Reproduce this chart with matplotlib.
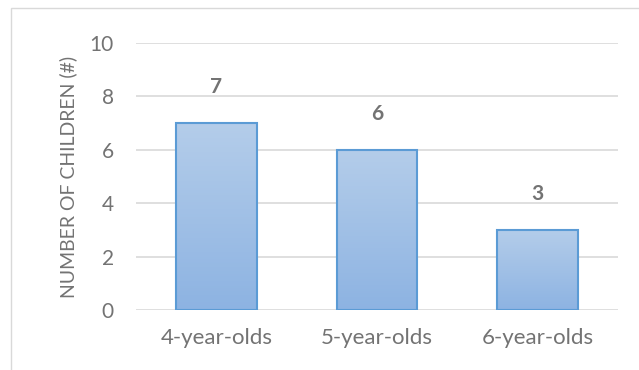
import matplotlib
matplotlib.use("Agg")
import matplotlib.pyplot as plt
import numpy as np
from matplotlib.patches import Rectangle
from matplotlib.colors import LinearSegmentedColormap

categories = ["4-year-olds", "5-year-olds", "6-year-olds"]
values = [7, 6, 3]
yticks = [0, 2, 4, 6, 8, 10]
ylabel = "NUMBER OF CHILDREN (#)"

plt.rcParams['font.family'] = ['Lato', 'DejaVu Sans']
W, H = 639, 370
fig = plt.figure(figsize=(W/100, H/100), dpi=100)
ax = fig.add_axes([136/W, 1-310/H, (618-136)/W, (310-43)/H])

text_col = "#737373"
x = np.arange(len(categories))
bars = ax.bar(x, values, width=0.5, facecolor="none", edgecolor="#5B9BD5", linewidth=1.5, zorder=3)
grad = np.linspace(0, 1, 256).reshape(-1, 1)
cmap = LinearSegmentedColormap.from_list("g", ["#8DB3E2", "#B4CDEA"])
for b in bars:
    x0, y0, w, h = b.get_x(), b.get_y(), b.get_width(), b.get_height()
    im = ax.imshow(grad, extent=[x0, x0+w, y0, y0+h], origin="lower", cmap=cmap,
                   aspect="auto", zorder=2)
    im.set_clip_path(Rectangle((x0, y0), w, h, transform=ax.transData))
for xi, v in zip(x, values):
    ax.annotate(str(v), (xi, v), xytext=(0, 26), textcoords="offset points",
                ha="center", va="center", fontsize=15, fontweight="bold", color=text_col)

ax.set_xlim(-0.5, len(categories)-0.5)
ax.set_ylim(0, 10)
ax.set_yticks(yticks)
ax.set_xticks(x)
ax.set_xticklabels(categories)
ax.yaxis.grid(True, color="#D9D9D9", linewidth=1.2, zorder=0)
ax.set_axisbelow(True)
for s in ax.spines.values():
    s.set_visible(False)
ax.tick_params(length=0, labelsize=15, colors=text_col)
ax.tick_params(axis='x', labelsize=16, pad=13)
ax.tick_params(axis='y', pad=16)
ax.set_ylabel(ylabel, fontsize=14, color=text_col, labelpad=9)

fig.patches.append(Rectangle((11/W, -0.1), 1, 1-8/H+0.1, transform=fig.transFigure,
                             fill=False, edgecolor="#D9D9D9", linewidth=1))
fig.savefig("out.png", dpi=100)
